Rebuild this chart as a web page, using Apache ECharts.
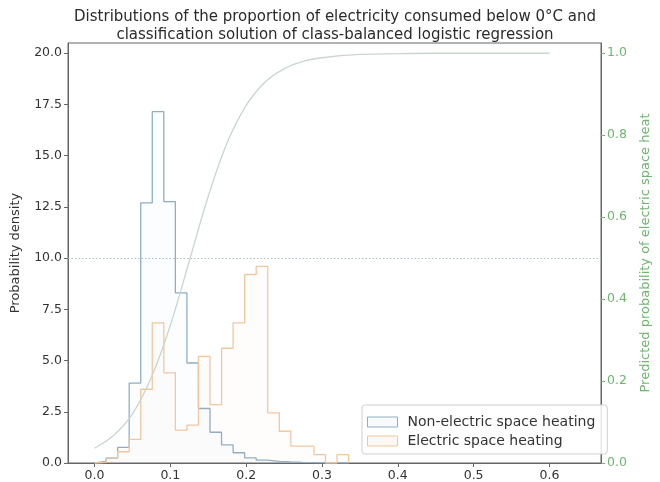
<!DOCTYPE html>
<html>
<head>
<meta charset="utf-8">
<script src="https://cdn.jsdelivr.net/npm/echarts@6/dist/echarts.min.js"></script>
<style>
  html, body { margin: 0; padding: 0; background: #fff; }
  #chart { width: 660px; height: 482px; }
</style>
</head>
<body>
<div id="chart"></div>
<script>
// Histogram bins: shared left edge and width (proportion of electricity below 0°C)
const binStart = 0.0;
const binWidth = 0.01523;

// Probability density per bin
const nonElectricDensity = [0.08, 0.24, 0.76, 3.9, 12.7, 17.15, 12.76, 8.3, 4.88, 2.66, 1.5,
  0.88, 0.5, 0.25, 0.14, 0.08, 0.05, 0.03, 0.02, 0.01, 0.01, 0];
const electricDensity = [0.03, 0.25, 0.55, 1.15, 3.6, 6.84, 4.4, 1.6, 1.85, 5.2, 2.85,
  5.6, 6.84, 9.2, 9.6, 2.45, 1.55, 0.82, 0.82, 0.41, 0, 0.41];

// Logistic regression: predicted probability of electric space heating
const curveX = [0, 0.025, 0.05, 0.075, 0.1, 0.125, 0.15, 0.175, 0.2, 0.225, 0.25, 0.275,
  0.3, 0.35, 0.4, 0.45, 0.5, 0.55, 0.6];
const curveP = [0.036, 0.067, 0.12, 0.209, 0.336, 0.493, 0.651, 0.782, 0.873, 0.93, 0.962, 0.98,
  0.989, 0.997, 0.999, 1.0, 1.0, 1.0, 1.0];

// Decision threshold (density axis value that lines up with p = 0.5)
const thresholdDensity = 10.0;

// Tick labels
const xTicks = [0, 0.1, 0.2, 0.3, 0.4, 0.5, 0.6];
const yTicks = [0, 2.5, 5, 7.5, 10, 12.5, 15, 17.5, 20];
const pTicks = [0, 0.2, 0.4, 0.6, 0.8, 1.0];

const seriesNames = ['Non-electric space heating', 'Electric space heating'];

// Build the step outline of a histogram (closed down to the baseline at both ends)
function stepOutline(values) {
  const pts = [[binStart, 0]];
  values.forEach((v, i) => {
    const l = binStart + i * binWidth;
    pts.push([l, v]);
    pts.push([l + binWidth, v]);
  });
  pts.push([binStart + values.length * binWidth, 0]);
  return pts;
}

const FONT = 'DejaVu Sans';
const BLUE = '#8eaec6';
const ORANGE = '#f2c7a0';
const CURVE = '#c8d6ce';
const GREEN = '#6fb56f';

const chart = echarts.init(document.getElementById('chart'), null, { renderer: 'canvas' });

chart.setOption({
  animation: false,
  backgroundColor: '#fff',
  textStyle: { fontFamily: FONT },
  title: {
    text: 'Distributions of the proportion of electricity consumed below 0°C and\nclassification solution of class-balanced logistic regression',
    left: 330,
    textAlign: 'center',
    top: 3,
    textStyle: { fontFamily: FONT, fontSize: 15, fontWeight: 'normal', color: '#2a2a2a', lineHeight: 18 }
  },
  grid: {
    left: 68, right: 51, top: 43, bottom: 18,
    show: true, borderColor: '#666', borderWidth: 1, backgroundColor: 'transparent'
  },
  legend: {
    orient: 'vertical',
    left: 362, top: 405,
    width: 245,
    padding: [10, 12, 6, 5],
    itemGap: 5,
    itemWidth: 30, itemHeight: 10,
    backgroundColor: 'rgba(255,255,255,0.85)',
    borderColor: '#cfcfcf', borderWidth: 1, borderRadius: 3,
    textStyle: { fontFamily: FONT, fontSize: 14, color: '#333', padding: [0, 0, 0, 5] },
    data: [
      { name: seriesNames[0], icon: 'rect', itemStyle: { color: 'rgba(142,174,198,0.06)', borderColor: BLUE, borderWidth: 1 } },
      { name: seriesNames[1], icon: 'rect', itemStyle: { color: 'rgba(242,199,160,0.12)', borderColor: ORANGE, borderWidth: 1 } }
    ]
  },
  xAxis: {
    type: 'value',
    min: -0.035, max: 0.668,
    splitLine: { show: false },
    axisLine: { show: true, onZero: false, lineStyle: { color: '#666' } },
    axisTick: { show: true, length: 4, customValues: xTicks, lineStyle: { color: '#666' } },
    axisLabel: {
      customValues: xTicks, fontSize: 12.5, color: '#333', margin: 6, fontFamily: FONT,
      formatter: v => v.toFixed(1)
    }
  },
  yAxis: [
    {
      type: 'value',
      min: 0, max: 20.5,
      position: 'left',
      name: 'Probability density',
      nameLocation: 'middle',
      nameGap: 46,
      nameTextStyle: { fontFamily: FONT, fontSize: 13, color: '#333' },
      splitLine: { show: false },
      axisLine: { show: true, onZero: false, lineStyle: { color: '#666' } },
      axisTick: { show: true, length: 4, customValues: yTicks, lineStyle: { color: '#666' } },
      axisLabel: {
        customValues: yTicks, fontSize: 12.5, color: '#333', margin: 6, fontFamily: FONT,
        formatter: v => v.toFixed(1)
      }
    },
    {
      type: 'value',
      min: 0, max: 1.025,
      position: 'right',
      name: 'Predicted probability of electric space heat',
      nameLocation: 'middle',
      nameRotate: 90,
      nameGap: 38,
      nameTextStyle: { fontFamily: FONT, fontSize: 13, color: GREEN },
      splitLine: { show: false },
      axisLine: { show: true, onZero: false, lineStyle: { color: '#666' } },
      axisTick: { show: true, length: 4, customValues: pTicks, lineStyle: { color: GREEN } },
      axisLabel: {
        customValues: pTicks, fontSize: 12.5, color: GREEN, margin: 6, fontFamily: FONT,
        formatter: v => v.toFixed(1)
      }
    }
  ],
  series: [
    {
      name: seriesNames[0],
      type: 'line',
      yAxisIndex: 0,
      data: stepOutline(nonElectricDensity),
      showSymbol: false,
      symbol: 'none',
      lineStyle: { color: BLUE, width: 1.3 },
      itemStyle: { color: BLUE },
      areaStyle: { color: 'rgba(142,174,198,0.035)' },
      z: 2,
      markLine: {
        silent: true,
        symbol: 'none',
        label: { show: false },
        lineStyle: { color: '#a9bccb', type: [1.5, 2], width: 1 },
        data: [{ yAxis: thresholdDensity }]
      }
    },
    {
      name: seriesNames[1],
      type: 'line',
      yAxisIndex: 0,
      data: stepOutline(electricDensity),
      showSymbol: false,
      symbol: 'none',
      lineStyle: { color: ORANGE, width: 1.3 },
      itemStyle: { color: ORANGE },
      areaStyle: { color: 'rgba(242,199,160,0.05)' },
      z: 3
    },
    {
      name: 'Predicted probability',
      type: 'line',
      yAxisIndex: 1,
      data: curveX.map((x, i) => [x, curveP[i]]),
      smooth: 0.35,
      showSymbol: false,
      symbol: 'none',
      lineStyle: { color: CURVE, width: 1.3 },
      z: 4
    }
  ]
});
</script>
</body>
</html>
